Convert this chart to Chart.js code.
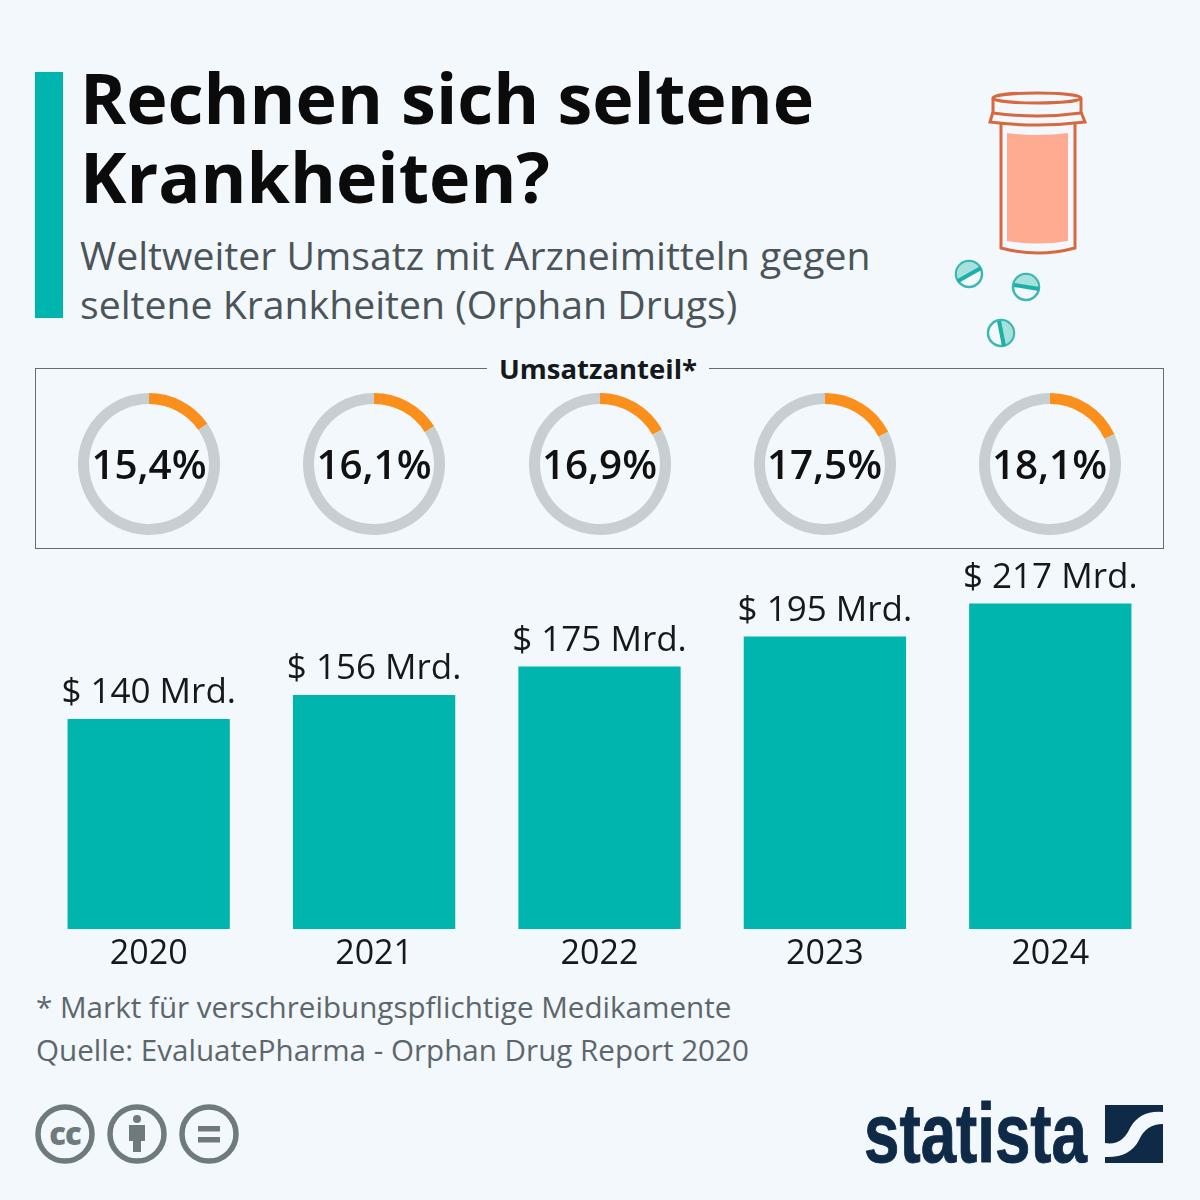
<!DOCTYPE html>
<html lang="de">
<head>
<meta charset="utf-8">
<title>Rechnen sich seltene Krankheiten?</title>
<script src="https://cdn.jsdelivr.net/npm/chart.js@4"></script>
<style>
  html, body { margin: 0; padding: 0; background: #f2f8fc; }
  body { width: 1200px; height: 1200px; position: relative; overflow: hidden; font-family: "Open Sans", sans-serif; }
  .abs { position: absolute; white-space: nowrap; }
  #accent { left: 35px; top: 72px; width: 28px; height: 246px; background: #00b5ad; }
  .title { left: 80px; font-size: 70px; font-weight: 700; color: #0b0b0b; line-height: 80px; }
  .sub { left: 80px; font-size: 39.2px; color: #4b5559; line-height: 48px; }
  #box { left: 35px; top: 368px; width: 1127px; height: 179px; border: 1.5px solid #666c70; }
  #boxlabel { left: 487px; width: 222px; top: 352px; text-align: center; background: #f2f8fc; font-size: 27.5px; font-weight: 700; color: #15191b; line-height: 34px; }
  .ring { position: absolute; width: 142px; height: 142px; top: 393px; }
  .pct { position: absolute; top: 439px; width: 180px; text-align: center; font-size: 40.4px; font-weight: 600; color: #111; line-height: 50px; }
  #barwrap { position: absolute; left: 36px; top: 560px; width: 1127px; height: 420px; }
  .note { left: 36px; font-size: 29.6px; color: #5d676b; line-height: 36px; }
  svg { position: absolute; left: 0; top: 0; }
</style>
</head>
<body>
<div class="abs" id="accent"></div>
<div class="abs title" style="top:57px">Rechnen sich seltene</div>
<div class="abs title" style="top:136px">Krankheiten?</div>
<div class="abs sub" style="top:231px">Weltweiter Umsatz mit Arzneimitteln gegen</div>
<div class="abs sub" style="top:280px">seltene Krankheiten (Orphan Drugs)</div>

<svg width="1200" height="1200" viewBox="0 0 1200 1200">
  <!-- bottle -->
  <g fill="none" stroke="#d8683f" stroke-width="3">
    <path d="M1001 124V248Q1038 258 1075 248V124"/>
    <ellipse cx="1037" cy="98" rx="44" ry="5"/>
    <path d="M993 98V113Q1037 119 1081 113V98"/>
    <path d="M993 112L990 122Q1037 128 1085 122L1081 112"/>
  </g>
  <path d="M1007 133Q1037 137 1068 133V241Q1037 246 1007 241Z" fill="#ffab91"/>
  <!-- pills -->
  <g stroke="#3db8b0" stroke-width="2.5" fill="#f2f8fc">
    <circle cx="969" cy="274" r="13"/>
    <circle cx="1026" cy="287" r="13"/>
    <circle cx="1001" cy="333" r="13"/>
  </g>
  <g fill="#a6e1de">
    <path d="M-12 0A12 12 0 0 1 12 0Z" transform="translate(969 274) rotate(-30)"/>
    <path d="M-12 0A12 12 0 0 1 12 0Z" transform="translate(1026 287) rotate(8)"/>
    <path d="M-12 0A12 12 0 0 1 12 0Z" transform="translate(1001 333) rotate(80)"/>
  </g>
  <g stroke="#1cb0a8" stroke-width="4">
    <line x1="958" y1="281" x2="981" y2="268"/>
    <line x1="1014" y1="285" x2="1039" y2="289"/>
    <line x1="999" y1="321" x2="1004" y2="346"/>
  </g>
  <!-- cc icons -->
  <g fill="none" stroke="#6f7a7c" stroke-width="5.5">
    <circle cx="65" cy="1134" r="27"/>
    <circle cx="137" cy="1134" r="27"/>
    <circle cx="209" cy="1134" r="27"/>
  </g>
  <text x="65" y="1145" text-anchor="middle" font-family="Open Sans" font-weight="800" font-size="31" letter-spacing="-1" fill="#6f7a7c">cc</text>
  <g fill="#6f7a7c">
    <circle cx="137" cy="1119" r="4"/>
    <path d="M129 1125H145V1141H141V1152H133V1141H129Z"/>
    <rect x="198" y="1126" width="22" height="5.5"/>
    <rect x="198" y="1137" width="22" height="5.5"/>
  </g>
  <!-- statista logo -->
  <text x="864" y="1162" font-family="Liberation Sans" font-weight="700" font-size="84" textLength="223" lengthAdjust="spacingAndGlyphs" fill="#0f2a47" stroke="#0f2a47" stroke-width="1">statista</text>
  <path d="M1105 1105H1163V1112Q1140 1110 1130 1128Q1122 1146 1105 1143Z" fill="#0f2a47"/>
  <path d="M1163 1124V1163H1105V1157Q1130 1158 1139 1140Q1146 1124 1163 1124Z" fill="#0f2a47"/>
</svg>

<div class="abs" id="box"></div>
<div class="abs" id="boxlabel">Umsatzanteil*</div>

<div id="rings"></div>
<div id="barwrap"><canvas id="bars"></canvas></div>

<div class="abs note" style="top:989px">* Markt für verschreibungspflichtige Medikamente</div>
<div class="abs note" style="top:1032px">Quelle: EvaluatePharma - Orphan Drug Report 2020</div>

<script>
const years = ['2020', '2021', '2022', '2023', '2024']
const revenue = [140, 156, 175, 195, 217]
const shareLabels = ['15,4%', '16,1%', '16,9%', '17,5%', '18,1%']
const shareValues = [15.4, 16.1, 16.9, 17.5, 18.1]

const ringCentres = [149, 374, 599.5, 824.5, 1049.5]
const teal = '#00b5ad'

Chart.defaults.animation = false
Chart.defaults.font.family = '"Open Sans", sans-serif'

// one small doughnut per year
const rings = document.getElementById('rings')
shareValues.forEach((share, i) => {
  const holder = document.createElement('div')
  holder.className = 'ring'
  holder.style.left = (ringCentres[i] - 71) + 'px'
  const cv = document.createElement('canvas')
  holder.appendChild(cv)
  rings.appendChild(holder)

  new Chart(cv, {
    type: 'doughnut',
    data: {
      labels: ['Orphan Drugs', 'Andere'],
      datasets: [{
        data: [share, 100 - share],
        backgroundColor: ['#fb8f1c', '#c8cfd2'],
        borderWidth: 0
      }]
    },
    options: {
      responsive: true,
      maintainAspectRatio: false,
      cutout: 60,
      plugins: { legend: { display: false }, tooltip: { enabled: false } }
    }
  })

  const pct = document.createElement('div')
  pct.className = 'pct'
  pct.style.left = (ringCentres[i] - 90) + 'px'
  pct.textContent = shareLabels[i]
  rings.appendChild(pct)
})

// value labels above the bars
const barLabels = {
  id: 'barLabels',
  afterDatasetsDraw(chart) {
    const ctx = chart.ctx
    ctx.save()
    ctx.font = '35px "Open Sans", sans-serif'
    ctx.fillStyle = '#15191b'
    ctx.textAlign = 'center'
    ctx.textBaseline = 'alphabetic'
    chart.getDatasetMeta(0).data.forEach((bar, i) => {
      ctx.fillText('$ ' + revenue[i] + ' Mrd.', bar.x, bar.y - 16)
    })
    ctx.restore()
  }
}

new Chart(document.getElementById('bars'), {
  type: 'bar',
  data: {
    labels: years,
    datasets: [{
      data: revenue,
      backgroundColor: teal,
      borderWidth: 0,
      barPercentage: 0.72,
      categoryPercentage: 1
    }]
  },
  options: {
    responsive: true,
    maintainAspectRatio: false,
    layout: { padding: 0 },
    plugins: { legend: { display: false }, tooltip: { enabled: false } },
    scales: {
      x: {
        grid: { display: false },
        border: { display: false },
        afterFit: scale => { scale.height = 51 },
        ticks: { color: '#15191b', font: { size: 34 }, padding: -3, maxRotation: 0 }
      },
      y: { display: false, min: 0, max: 246 }
    }
  },
  plugins: [barLabels]
})
</script>
</body>
</html>
